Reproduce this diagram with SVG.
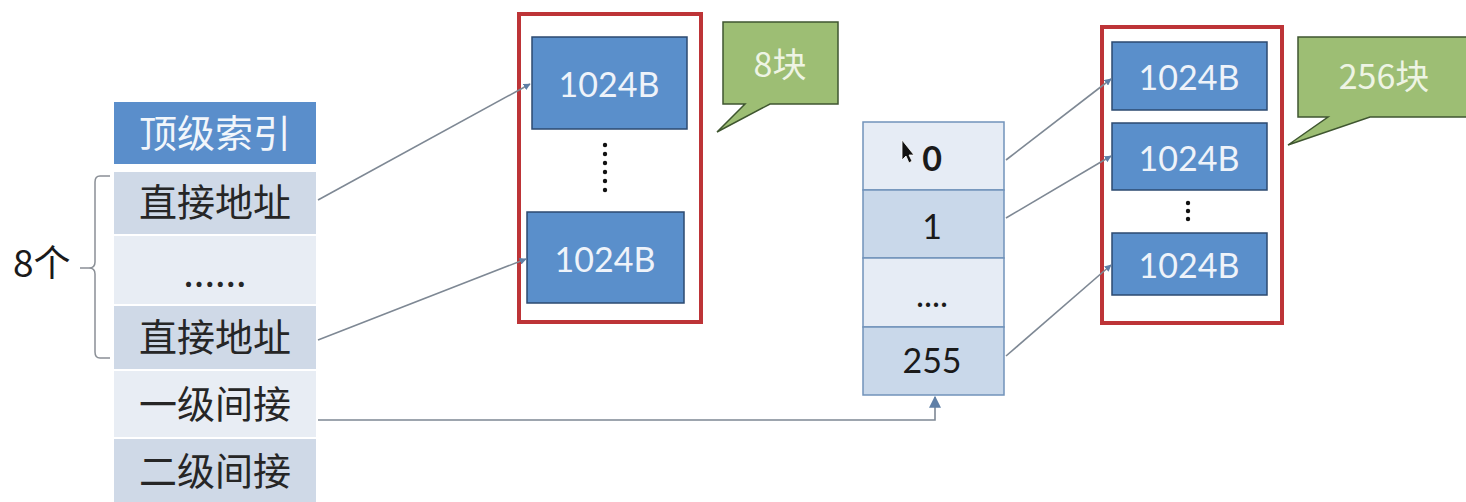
<svg xmlns="http://www.w3.org/2000/svg" width="1466" height="502" viewBox="0 0 1466 502">
<style>
.cjk{font-family:"Noto Sans CJK SC","Noto Sans",sans-serif;}
.num{font-family:Lato,"Liberation Sans",sans-serif;}
.hdr{fill:#5A8ECB;}
.dk{fill:#CFD9E7;}
.lt{fill:#E8EDF4;}
.cell{font-size:38px;fill:#262626;text-anchor:middle;dominant-baseline:central;}
.blk{fill:#5A8FCB;stroke:#2C4A70;stroke-width:1.5;}
.blkt{font-size:34px;fill:#EEF3FA;text-anchor:middle;dominant-baseline:central;}
.red{fill:none;stroke:#BD3437;stroke-width:4;}
.call{fill:#9DBE74;stroke:#3F5630;stroke-width:1.5;}
.callt{font-size:34px;fill:#EEF4E4;text-anchor:middle;dominant-baseline:central;}
.mt{fill:#E6ECF5;stroke:#7193BA;stroke-width:1.5;}
.md{fill:#C9D8EA;stroke:#7193BA;stroke-width:1.5;}
.mtx{font-size:34px;fill:#1A1A1A;text-anchor:middle;dominant-baseline:central;}
.conn{fill:none;stroke:#7E8894;stroke-width:1.6;}
</style>
<defs>
<marker id="ah" viewBox="0 0 10 10" refX="9" refY="5" markerWidth="7" markerHeight="7" orient="auto" markerUnits="userSpaceOnUse">
<path d="M0,0 L10,5 L0,10 z" fill="#5F7FA6"/>
</marker>
<marker id="ahb" viewBox="0 0 10 10" refX="9" refY="5" markerWidth="12" markerHeight="12" orient="auto" markerUnits="userSpaceOnUse">
<path d="M0,0 L10,5 L0,10 z" fill="#5F7FA6"/>
</marker>
</defs>
<rect width="1466" height="502" fill="#FFFFFF"/>

<g id="inode-table">
<rect class="hdr" x="114" y="102" width="202" height="62"/>
<text class="cjk" x="215" y="130" font-size="38" fill="#F2F6FB" text-anchor="middle" dominant-baseline="central">顶级索引</text>
<rect class="dk" x="114" y="172" width="202" height="62"/>
<text class="cjk cell" x="215" y="199">直接地址</text>
<rect class="lt" x="114" y="236" width="202" height="68"/>
<text class="cjk cell" x="215" y="270">......</text>
<rect class="dk" x="114" y="306" width="202" height="63"/>
<text class="cjk cell" x="215" y="334">直接地址</text>
<rect class="lt" x="114" y="371" width="202" height="66"/>
<text class="cjk cell" x="215" y="401">一级间接</text>
<rect class="dk" x="114" y="439" width="202" height="63"/>
<text class="cjk cell" x="215" y="468">二级间接</text>
</g>

<g id="brace-8">
<path d="M110,176 L100,176 Q95,176 95,182 L95,262 Q95,268 89,268 L80,268 M89,268 Q95,268 95,274 L95,352 Q95,358 100,358 L110,358" fill="none" stroke="#8A8F96" stroke-width="1.5"/>
<text class="cjk" x="13" y="261" font-size="37" fill="#1A1A1A" dominant-baseline="central">8个</text>
</g>

<g id="data-blocks-8">
<rect class="red" x="519" y="14" width="182" height="308"/>
<rect class="blk" x="532" y="37" width="155" height="92"/>
<text class="num blkt" x="609" y="83">1024B</text>
<g fill="#111">
<circle cx="605" cy="145" r="2.2"/><circle cx="605" cy="154" r="2.2"/><circle cx="605" cy="163" r="2.2"/><circle cx="605" cy="172" r="2.2"/><circle cx="605" cy="181" r="2.2"/><circle cx="605" cy="190" r="2.2"/>
</g>
<rect class="blk" x="527" y="212" width="157" height="91"/>
<text class="num blkt" x="605" y="258">1024B</text>
</g>

<g id="callout-8">
<path class="call" d="M723,22 L838,22 L838,104 L770,104 L717,132 L745,104 L723,104 Z"/>
<text class="cjk callt" x="780" y="62">8块</text>
</g>

<g id="index-block">
<rect class="mt" x="863" y="122" width="141" height="68"/>
<text class="num mtx" x="932" y="157" font-weight="bold">0</text>
<path d="M902,140 L902,160 L906,156 L909,163 L912,161 L909,155 L914,155 Z" fill="#111" stroke="#fff" stroke-width="0.8"/>
<rect class="md" x="863" y="190" width="141" height="68"/>
<text class="num mtx" x="932" y="225">1</text>
<rect class="mt" x="863" y="258" width="141" height="69"/>
<text class="num mtx" x="932" y="293">....</text>
<rect class="md" x="863" y="327" width="141" height="68"/>
<text class="num mtx" x="932" y="359">255</text>
</g>

<g id="data-blocks-256">
<rect class="red" x="1102" y="27" width="180" height="296"/>
<rect class="blk" x="1112" y="42" width="155" height="68"/>
<text class="num blkt" x="1189" y="76">1024B</text>
<rect class="blk" x="1112" y="123" width="155" height="67"/>
<text class="num blkt" x="1189" y="157">1024B</text>
<g fill="#111">
<circle cx="1188" cy="203" r="2.2"/><circle cx="1188" cy="211" r="2.2"/><circle cx="1188" cy="219" r="2.2"/>
</g>
<rect class="blk" x="1112" y="233" width="155" height="62"/>
<text class="num blkt" x="1189" y="264">1024B</text>
</g>

<g id="callout-256">
<path class="call" d="M1298,37 L1470,37 L1470,117 L1370,117 L1288,145 L1328,117 L1298,117 Z"/>
<text class="cjk callt" x="1384" y="74">256块</text>
</g>

<g id="connectors">
<line class="conn" x1="318" y1="200" x2="530" y2="84" marker-end="url(#ah)"/>
<line class="conn" x1="318" y1="340" x2="526" y2="259" marker-end="url(#ah)"/>
<polyline class="conn" points="318,420 935,420 935,397" marker-end="url(#ahb)"/>
<line class="conn" x1="1006" y1="160" x2="1111" y2="79" marker-end="url(#ah)"/>
<line class="conn" x1="1006" y1="218" x2="1111" y2="156" marker-end="url(#ah)"/>
<line class="conn" x1="1006" y1="356" x2="1111" y2="265" marker-end="url(#ah)"/>
</g>
</svg>
